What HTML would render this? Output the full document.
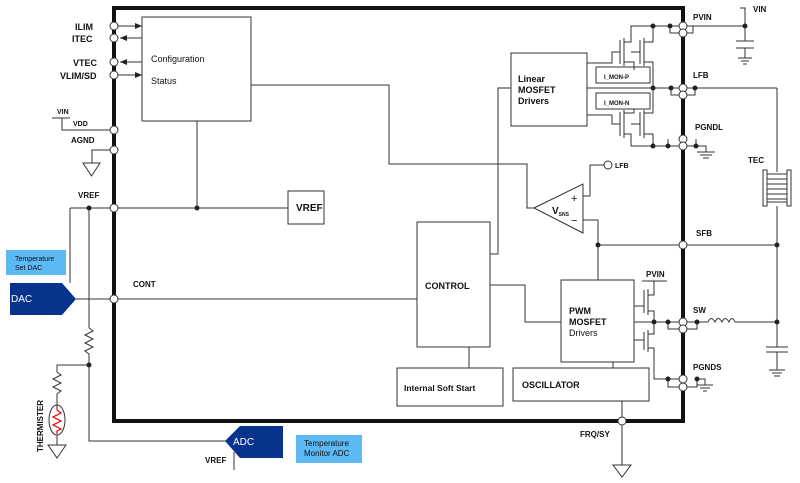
<!DOCTYPE html>
<html><head><meta charset="utf-8"><style>
html,body{margin:0;padding:0;background:#fff;}
svg{display:block;font-family:"Liberation Sans",Arial,sans-serif;font-weight:bold;}
text{font-size:9px;fill:#111;}
</style></head><body>
<svg width="800" height="483" viewBox="0 0 800 483" xmlns="http://www.w3.org/2000/svg">
<defs>
<marker id="ar" markerWidth="8" markerHeight="8" refX="7" refY="3" orient="auto"><path d="M0,0 L7,3 L0,6 z" fill="#222"/></marker>
</defs>
<g stroke="#333" stroke-width="1" fill="none">
<rect x="114" y="8" width="569" height="413" stroke="#111" stroke-width="4"/>
<rect x="142" y="17" width="109" height="104"/>
<line x1="118" y1="26" x2="142" y2="26" marker-end="url(#ar)"/>
<line x1="142" y1="38" x2="120" y2="38" marker-end="url(#ar)"/>
<line x1="142" y1="62" x2="120" y2="62" marker-end="url(#ar)"/>
<line x1="118" y1="75" x2="142" y2="75" marker-end="url(#ar)"/>
<polyline points="251,85 389,85 389,164 527,164 527,208 534,208"/>
<line x1="197" y1="121" x2="197" y2="208"/>
<line x1="70" y1="208" x2="288" y2="208"/>
<rect x="288" y="191" width="36" height="33"/>
<polyline points="52,118 70,118"/>
<polyline points="62,118 62,130 110,130"/>
<polyline points="110,150 92,150 92,163"/>
<path d="M83,163 L100,163 L91.5,176 z"/>
<line x1="70" y1="208" x2="70" y2="283"/>
<line x1="89" y1="208" x2="89" y2="328"/>
<path d="M89,328 l4,3 l-8,4 l8,4 l-8,4 l8,4 l-8,4 l4,3 L89,441 L228,441"/>
<polyline points="89,365 57,365 57,372"/>
<path d="M57,372 l4,3 l-8,4 l8,4 l-8,4 l8,4 l-4,3 L57,408"/>
<ellipse cx="57" cy="420" rx="8" ry="15"/>
<line x1="57" y1="435" x2="57" y2="445"/>
<path d="M48,445 L66,445 L57,458 z"/>
<line x1="76" y1="299" x2="417" y2="299"/>
<line x1="234" y1="452" x2="234" y2="470"/>
<rect x="417" y="222" width="73" height="125"/>
<polyline points="490,254 498,254 498,88 511,88"/>
<polyline points="490,285 525,285 525,322 561,322"/>
<line x1="469" y1="347" x2="469" y2="368"/>
<rect x="397" y="368" width="106" height="38"/>
<rect x="511" y="53" width="76" height="73"/>
<rect x="561" y="280" width="73" height="82"/>
<rect x="513" y="368" width="136" height="33"/>
<line x1="613" y1="362" x2="613" y2="368"/>
<line x1="622" y1="401" x2="622" y2="465"/>
<path d="M613,465 L631,465 L622,477 z"/>
<path d="M534,208 L583,184 L583,233 z"/>
<polyline points="583,196 590,196 590,165 604,165"/>
<polyline points="583,220 598,220 598,280"/>
<line x1="598" y1="245" x2="777" y2="245"/>
<polyline points="587,63 612,63 612,52 620,52"/>
<line x1="620" y1="40" x2="620" y2="64"/><line x1="624" y1="38" x2="624" y2="66"/>
<polyline points="624,42 631,42 631,26 683,26"/>
<polyline points="624,62 634,62 634,70"/>
<line x1="640" y1="40" x2="640" y2="64"/><line x1="644" y1="38" x2="644" y2="66"/>
<polyline points="644,42 653,42 653,26"/>
<polyline points="644,62 653,62 653,88"/>
<line x1="631" y1="52" x2="640" y2="52"/>
<rect x="596" y="67" width="54" height="16"/>
<rect x="596" y="93" width="54" height="16"/>
<line x1="587" y1="88" x2="777" y2="88"/>
<polyline points="587,115 612,115 612,124 620,124"/>
<line x1="620" y1="112" x2="620" y2="136"/><line x1="624" y1="110" x2="624" y2="138"/>
<polyline points="624,113 634,113 634,109"/>
<polyline points="624,134 631,134 631,146 683,146"/>
<line x1="640" y1="112" x2="640" y2="136"/><line x1="644" y1="110" x2="644" y2="138"/>
<polyline points="644,113 653,113 653,88"/>
<polyline points="644,134 653,134 653,146"/>
<line x1="631" y1="124" x2="640" y2="124"/>
<polyline points="670,26 670,33 693,33 693,26"/>
<polyline points="671,88 671,95 695,95 695,88"/>
<polyline points="668,139 668,146 696,146 696,139"/>
<polyline points="668,322 668,329 697,329 697,322"/>
<polyline points="668,379 668,387 697,387 697,379"/>
<line x1="683" y1="26" x2="745" y2="26"/>
<polyline points="740,8 745,8 745,41"/>
<line x1="736" y1="41" x2="754" y2="41"/><line x1="736" y1="48" x2="754" y2="48"/>
<line x1="745" y1="48" x2="745" y2="58"/>
<line x1="738" y1="58" x2="752" y2="58"/><line x1="741" y1="61" x2="749" y2="61"/><line x1="743" y1="64" x2="747" y2="64"/>
<polyline points="696,146 706,146 706,152"/>
<line x1="697" y1="152" x2="715" y2="152"/><line x1="700" y1="155" x2="712" y2="155"/><line x1="703" y1="158" x2="709" y2="158"/>
<line x1="777" y1="88" x2="777" y2="172"/>
<rect x="763" y="170" width="4" height="36"/><rect x="787" y="170" width="4" height="36"/>
<rect x="767" y="174" width="20" height="28"/>
<line x1="767" y1="179" x2="787" y2="179"/><line x1="767" y1="184" x2="787" y2="184"/><line x1="767" y1="189" x2="787" y2="189"/><line x1="767" y1="194" x2="787" y2="194"/><line x1="767" y1="199" x2="787" y2="199"/>
<line x1="777" y1="206" x2="777" y2="347"/>
<line x1="642" y1="281" x2="667" y2="281"/>
<polyline points="654,281 654,295 648,295"/>
<line x1="648" y1="289" x2="648" y2="315"/><line x1="644" y1="290" x2="644" y2="313"/>
<line x1="634" y1="306" x2="644" y2="306"/>
<polyline points="648,311 654,311 654,322"/>
<line x1="634" y1="322" x2="708" y2="322"/>
<path d="M708,322 q3,-7 7,0 q3,-7 7,0 q3,-7 7,0 q3,-7 6,0" />
<line x1="735" y1="322" x2="777" y2="322"/>
<polyline points="654,322 654,334 648,334"/>
<line x1="648" y1="330" x2="648" y2="352"/><line x1="644" y1="332" x2="644" y2="350"/>
<line x1="634" y1="340" x2="644" y2="340"/>
<polyline points="648,348 654,348 654,379 683,379"/>
<line x1="766" y1="347" x2="788" y2="347"/><line x1="766" y1="352" x2="788" y2="352"/>
<line x1="777" y1="352" x2="777" y2="370"/>
<line x1="769" y1="370" x2="785" y2="370"/><line x1="772" y1="373" x2="782" y2="373"/><line x1="774" y1="376" x2="780" y2="376"/>
<polyline points="697,379 705,379 705,385"/>
<line x1="697" y1="385" x2="713" y2="385"/><line x1="700" y1="388" x2="710" y2="388"/><line x1="703" y1="391" x2="707" y2="391"/>
</g>
<path d="M57,407 L57,410 L61,413 L53,417 L61,421 L53,425 L61,429 L57,431 L57,434" fill="none" stroke="#e00" stroke-width="1.2"/>
<g fill="#222">
<circle cx="197" cy="208" r="2.5"/><circle cx="89" cy="208" r="2.5"/><circle cx="89" cy="365" r="2.5"/>
<circle cx="598" cy="245" r="2.5"/><circle cx="777" cy="245" r="2.5"/><circle cx="777" cy="322" r="2.5"/>
<circle cx="653" cy="26" r="2.5"/><circle cx="670" cy="26" r="2.5"/><circle cx="745" cy="26" r="2.5"/>
<circle cx="653" cy="88" r="2.5"/><circle cx="671" cy="88" r="2.5"/><circle cx="695" cy="88" r="2.5"/>
<circle cx="653" cy="146" r="2.5"/><circle cx="668" cy="146" r="2.5"/><circle cx="696" cy="146" r="2.5"/>
<circle cx="654" cy="322" r="2.5"/><circle cx="668" cy="322" r="2.5"/><circle cx="697" cy="322" r="2.5"/>
<circle cx="668" cy="379" r="2.5"/><circle cx="697" cy="379" r="2.5"/>
</g>
<g fill="#fff" stroke="#333" stroke-width="1">
<circle cx="114" cy="26" r="4"/><circle cx="114" cy="38" r="4"/><circle cx="114" cy="62" r="4"/><circle cx="114" cy="75" r="4"/>
<circle cx="114" cy="130" r="4"/><circle cx="114" cy="150" r="4"/><circle cx="114" cy="208" r="4"/><circle cx="114" cy="299" r="4"/>
<circle cx="683" cy="26" r="4"/><circle cx="683" cy="33" r="4"/><circle cx="683" cy="88" r="4"/><circle cx="683" cy="95" r="4"/>
<circle cx="683" cy="139" r="4"/><circle cx="683" cy="146" r="4"/><circle cx="683" cy="245" r="4"/>
<circle cx="683" cy="322" r="4"/><circle cx="683" cy="329" r="4"/><circle cx="683" cy="379" r="4"/><circle cx="683" cy="387" r="4"/>
<circle cx="622" cy="421" r="4"/><circle cx="608" cy="165" r="4"/>
</g>
<rect x="6" y="250" width="60" height="25" fill="#5cb9f4"/>
<path d="M10,283 L62,283 L76,299 L62,315 L10,315 z" fill="#08338c"/>
<path d="M225,441 L240,426 L283,426 L283,458 L240,458 z" fill="#08338c"/>
<rect x="296" y="435" width="66" height="28" fill="#5cb9f4"/>
<g font-weight="normal">
<text x="15" y="261" style="font-size:7px">Temperature</text>
<text x="15" y="270" style="font-size:7px">Set DAC</text>
<text x="11" y="302" style="font-size:10px;fill:#fff;font-weight:normal">DAC</text>
<text x="233" y="445" style="font-size:10px;fill:#fff;font-weight:normal">ADC</text>
<text x="304" y="446" style="font-size:8px">Temperature</text>
<text x="304" y="456" style="font-size:8px">Monitor ADC</text>
</g>
<text x="75" y="30">ILIM</text><text x="72" y="42">ITEC</text>
<text x="73" y="66">VTEC</text><text x="60" y="79">VLIM/SD</text>
<text x="57" y="114" style="font-size:7px">VIN</text><text x="73" y="126" style="font-size:7px">VDD</text>
<text x="71" y="143" style="font-size:8px">AGND</text><text x="78" y="198" style="font-size:8px">VREF</text>
<text x="151" y="62" style="font-weight:normal">Configuration</text><text x="151" y="84" style="font-weight:normal">Status</text>
<text x="296" y="211" style="font-size:10px">VREF</text>
<text x="133" y="287" style="font-size:8px">CONT</text>
<text x="425" y="289">CONTROL</text>
<text x="404" y="391" style="font-size:8.5px">Internal Soft Start</text>
<text x="522" y="388">OSCILLATOR</text>
<text x="569" y="314">PWM</text><text x="569" y="325">MOSFET</text><text x="569" y="336" style="font-weight:normal">Drivers</text>
<text x="518" y="82">Linear</text><text x="518" y="93">MOSFET</text><text x="518" y="104">Drivers</text>
<text x="604" y="79" style="font-size:6px">I_MON-P</text><text x="604" y="105" style="font-size:6px">I_MON-N</text>
<text x="552" y="214" style="font-size:10px">V<tspan style="font-size:5px" dy="2">SNS</tspan></text>
<text x="571" y="202" style="font-size:11px;font-weight:normal">+</text><text x="571" y="224" style="font-size:11px;font-weight:normal">−</text>
<text x="615" y="168" style="font-size:7px">LFB</text>
<text x="693" y="20" style="font-size:8px">PVIN</text><text x="753" y="12" style="font-size:8px">VIN</text>
<text x="693" y="78" style="font-size:8px">LFB</text><text x="695" y="130" style="font-size:8px">PGNDL</text>
<text x="748" y="163" style="font-size:8px">TEC</text><text x="696" y="236" style="font-size:8px">SFB</text>
<text x="693" y="313" style="font-size:8px">SW</text><text x="693" y="370" style="font-size:8px">PGNDS</text>
<text x="646" y="277" style="font-size:8px">PVIN</text>
<text x="580" y="437" style="font-size:8px">FRQ/SY</text>
<text x="205" y="463" style="font-size:8px">VREF</text>
<text x="0" y="0" transform="translate(43,452) rotate(-90)" style="font-size:8px">THERMISTER</text>
</svg>
</body></html>
